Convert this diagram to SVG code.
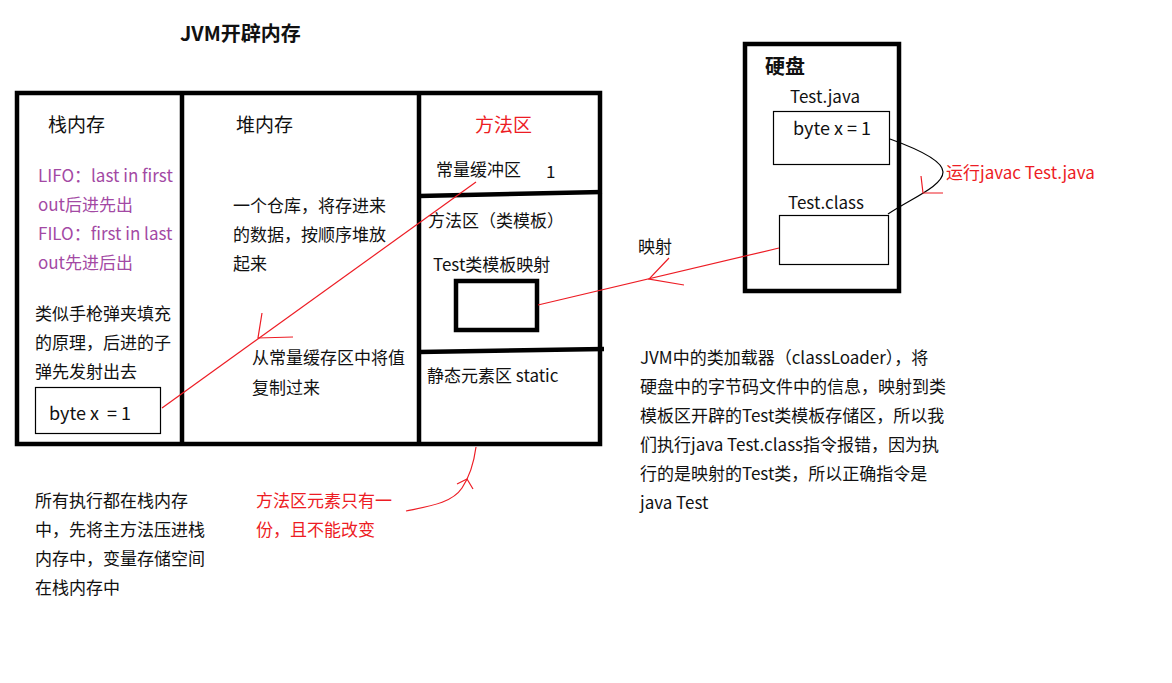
<svg xmlns="http://www.w3.org/2000/svg" width="1172" height="683" viewBox="0 0 1172 683">
  <style>
    text { font-family: "Noto Sans CJK SC", "Liberation Sans", sans-serif; font-size: 17px; fill: #111; dominant-baseline: central; white-space: pre; }
    .title { font-size: 20px; font-weight: bold; }
    .head { font-size: 19px; }
    .code { font-size: 18px; }
    .red { fill: #ed1c24; }
    .purple { fill: #a349a4; }
    .thick { fill: none; stroke: #000; stroke-width: 4.5; }
    .thin { fill: none; stroke: #000; stroke-width: 1.2; }
    .rl { fill: none; stroke: #ed1c24; stroke-width: 1.2; }
  </style>

  <rect width="1172" height="683" fill="#fff"/>

  <!-- title -->
  <text class="title" x="180" y="32">JVM开辟内存</text>

  <!-- JVM memory frame -->
  <g id="jvm-frame">
    <rect class="thick" x="17" y="93" width="583" height="351"/>
    <line class="thick" x1="182" y1="93" x2="182" y2="444"/>
    <line class="thick" x1="419" y1="93" x2="419" y2="444"/>
  </g>

  <!-- stack memory -->
  <g id="stack">
    <text class="head" x="48" y="123">栈内存</text>
    <text class="purple" x="38" y="174">LIFO：last in first</text>
    <text class="purple" x="38" y="203">out后进先出</text>
    <text class="purple" x="38" y="232">FILO：first in last</text>
    <text class="purple" x="38" y="261">out先进后出</text>
    <text x="35" y="312">类似手枪弹夹填充</text>
    <text x="35" y="341">的原理，后进的子</text>
    <text x="35" y="370">弹先发射出去</text>
  </g>
  <g id="stack-var">
    <rect class="thin" x="35.5" y="387.5" width="125" height="46"/>
    <text class="code" x="49" y="412" xml:space="preserve">byte x  = 1</text>
  </g>

  <!-- heap memory -->
  <g id="heap">
    <text class="head" x="236" y="123">堆内存</text>
    <text x="233" y="204">一个仓库，将存进来</text>
    <text x="233" y="233">的数据，按顺序堆放</text>
    <text x="233" y="262">起来</text>
    <text x="252" y="356">从常量缓存区中将值</text>
    <text x="252" y="386">复制过来</text>
  </g>

  <!-- method area -->
  <g id="method-area">
    <text class="head red" x="475" y="123">方法区</text>
    <line class="thick" x1="419" y1="196" x2="602" y2="192"/>
    <line class="thick" x1="419" y1="352" x2="604" y2="349"/>
  </g>
  <g id="constant-pool">
    <text x="436" y="168">常量缓冲区</text>
    <text x="546" y="170">1</text>
  </g>
  <g id="class-template">
    <text x="428" y="219">方法区（类模板）</text>
    <text x="433" y="263">Test类模板映射</text>
    <rect class="thick" x="456" y="281" width="81" height="49"/>
  </g>
  <g id="static-area">
    <text x="427" y="374">静态元素区 static</text>
  </g>

  <!-- disk -->
  <g id="disk">
    <rect class="thick" x="745" y="44" width="154" height="247"/>
    <text class="title" x="765" y="65">硬盘</text>
  </g>
  <g id="test-java">
    <text x="790" y="95">Test.java</text>
    <rect class="thin" x="773.5" y="111.5" width="116" height="53"/>
    <text class="code" x="793" y="127">byte x = 1</text>
  </g>
  <g id="test-class">
    <text x="788" y="201">Test.class</text>
    <rect class="thin" x="779.5" y="215.5" width="109" height="49"/>
  </g>

  <!-- connectors -->
  <g id="connectors">
    <!-- constant copied into stack variable -->
    <line class="rl" x1="162" y1="408" x2="476" y2="182"/>
    <polyline class="rl" points="262,313 258,338 293,337"/>
    <!-- class file mapped to class template -->
    <line class="rl" x1="779" y1="248" x2="538" y2="305"/>
    <polyline class="rl" points="669,258 649,279 684,285"/>
    <!-- javac compile -->
    <path class="thin" d="M890,139 C915,148 943,160 943,172 C943,186 912,198 888,214"/>
    <polyline class="rl" points="921,176 923,193 943,193"/>
    <!-- note to static area -->
    <path class="rl" d="M406,511 C430,506 452,503 462,488 C470,476 474,462 476,447"/>
    <polyline class="rl" points="457,484 467,479 473,489"/>
  </g>

  <!-- notes -->
  <g id="note-compile">
    <text class="red" x="946" y="171">运行javac Test.java</text>
  </g>
  <g id="note-mapping">
    <text x="638" y="245">映射</text>
  </g>
  <g id="note-classloader">
    <text x="640" y="356">JVM中的类加载器（classLoader），将</text>
    <text x="640" y="385">硬盘中的字节码文件中的信息，映射到类</text>
    <text x="640" y="414">模板区开辟的Test类模板存储区，所以我</text>
    <text x="640" y="443">们执行java Test.class指令报错，因为执</text>
    <text x="640" y="472">行的是映射的Test类，所以正确指令是</text>
    <text x="640" y="501">java Test</text>
  </g>
  <g id="note-stack">
    <text x="35" y="499">所有执行都在栈内存</text>
    <text x="35" y="528">中，先将主方法压进栈</text>
    <text x="35" y="557">内存中，变量存储空间</text>
    <text x="35" y="586">在栈内存中</text>
  </g>
  <g id="note-static">
    <text class="red" x="256" y="499">方法区元素只有一</text>
    <text class="red" x="256" y="528">份，且不能改变</text>
  </g>
</svg>
